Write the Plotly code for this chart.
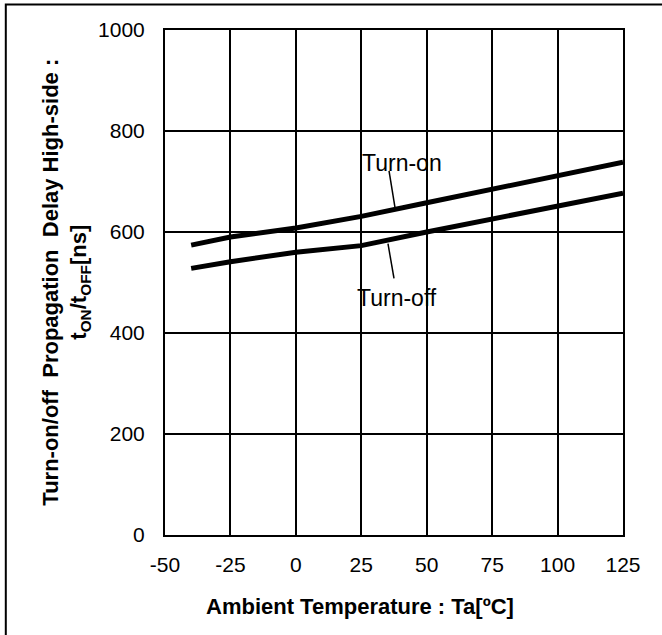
import plotly.graph_objects as go

# Data
temps = [-40, -25, 0, 25, 50, 75, 100, 125]
t_on = [574, 590, 608, 631, 658, 684, 711, 738]
t_off = [528, 541, 560, 573, 600, 626, 652, 677]

x_ticks = [-50, -25, 0, 25, 50, 75, 100, 125]
y_ticks = [0, 200, 400, 600, 800, 1000]

FONT = "Liberation Sans, Arial, sans-serif"

fig = go.Figure()
fig.add_trace(go.Scatter(x=temps, y=t_on, mode="lines", name="Turn-on",
                         line=dict(color="black", width=5), showlegend=False))
fig.add_trace(go.Scatter(x=temps, y=t_off, mode="lines", name="Turn-off",
                         line=dict(color="black", width=5), showlegend=False))

fig.update_xaxes(range=[-50, 125], tickvals=x_ticks, ticktext=[str(v) for v in x_ticks],
                 showgrid=True, gridcolor="black", gridwidth=1.5,
                 showline=True, linecolor="black", linewidth=2, mirror=True,
                 zeroline=False, ticks="", ticklabelstandoff=10,
                 tickfont=dict(family=FONT, size=21, color="black"))
fig.update_yaxes(range=[0, 1000], tickvals=y_ticks,
                 showgrid=True, gridcolor="black", gridwidth=1.5,
                 showline=True, linecolor="black", linewidth=2, mirror=True,
                 zeroline=False, ticks="", ticklabelstandoff=14,
                 tickfont=dict(family=FONT, size=21, color="black"))

annotations = [
    dict(text="Turn-on", x=40.6, y=737, xref="x", yref="y", showarrow=False,
         font=dict(family=FONT, size=23, color="black")),
    dict(text="Turn-off", x=38.6, y=469, xref="x", yref="y", showarrow=False,
         font=dict(family=FONT, size=23, color="black")),
    dict(text="<b>Ambient Temperature : Ta[ºC]</b>", x=0.426, y=-0.142, xref="paper", yref="paper",
         xanchor="center", yanchor="middle", showarrow=False,
         font=dict(family=FONT, size=22, color="black")),
    dict(text="<b>Turn-on/off  Propagation  Delay High-side :<br>t<sub>ON</sub>/t<sub>OFF</sub>[ns]</b>",
         x=-0.218, y=0.5, xref="paper", yref="paper", textangle=-90,
         xanchor="center", yanchor="middle", showarrow=False,
         font=dict(family=FONT, size=22, color="black")),
]

shapes = [
    dict(type="line", xref="x", yref="y", x0=35.6, y0=721, x1=37.9, y1=648,
         line=dict(color="black", width=1.5)),
    dict(type="line", xref="x", yref="y", x0=35.2, y0=577, x1=37.5, y1=508,
         line=dict(color="black", width=1.5)),
    dict(type="rect", xref="paper", yref="paper", x0=-0.3476, y0=-0.4, x1=1.3, y1=1.0505,
         line=dict(color="black", width=2), fillcolor="rgba(0,0,0,0)", layer="below"),
]

fig.update_layout(
    width=662, height=635,
    margin=dict(l=165, r=39, t=30, b=100),
    paper_bgcolor="white", plot_bgcolor="white",
    annotations=annotations, shapes=shapes,
    showlegend=False,
)

fig.write_html("out.html", config={"displayModeBar": False},
               post_script="document.body.style.margin='0';")
